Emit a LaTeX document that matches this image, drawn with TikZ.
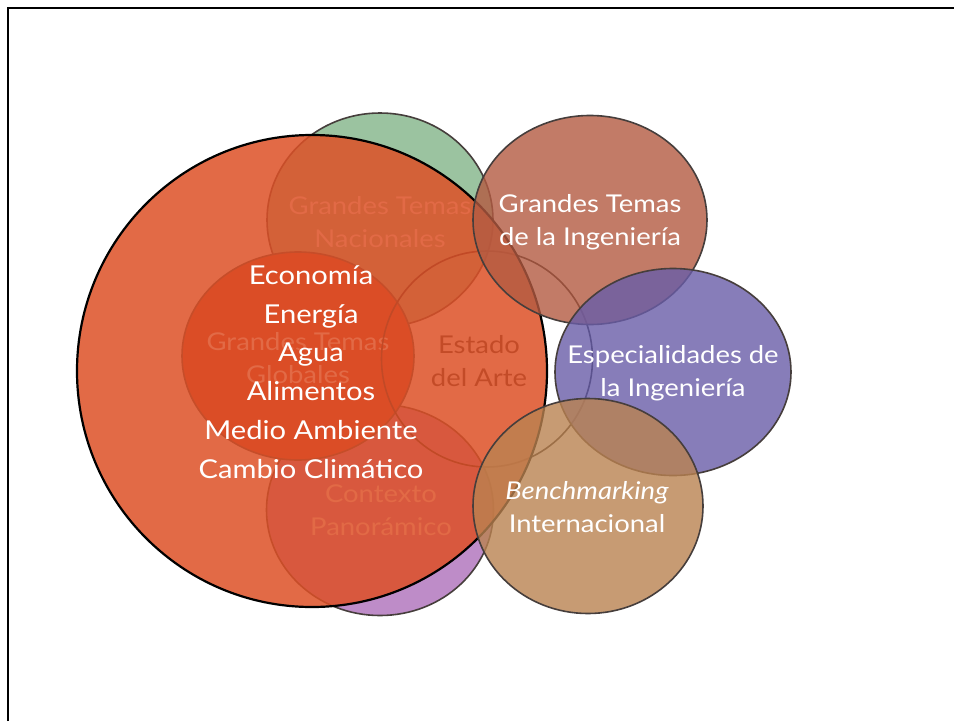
\documentclass[tikz,border=0pt]{standalone}
\usepackage{fontspec}
\setmainfont{Lato}[FakeStretch=1.12]
\usepackage{tikz}
\usetikzlibrary{shapes.geometric}

\definecolor{natGreen}{RGB}{155,195,160}
\definecolor{panMauve}{RGB}{190,140,200}
\definecolor{gloRed}{RGB}{210,60,40}
\definecolor{bigRed}{RGB}{221,80,38}
\definecolor{ingBrown}{RGB}{179,91,66}
\definecolor{espPurple}{RGB}{105,93,168}
\definecolor{benTan}{RGB}{186,130,80}
\definecolor{rimGray}{RGB}{70,62,60}

\begin{document}
\begin{tikzpicture}[x=1pt,y=-1pt,
    bubble/.style={ellipse, draw=rimGray, line width=1.6pt, inner sep=0pt},
    bubbletext/.style={text=white, align=center, font=\fontsize{24.5}{33}\selectfont},
    listtext/.style={text=white, align=center, font=\fontsize{26}{38.8}\selectfont}]
    \fill[white] (0,0) rectangle (954,721);
    \useasboundingbox (0,0) rectangle (954,721);
    \draw[line width=1.5pt] (8,721) -- (8,8) -- (954,8);
    % circles under the big one
    \node[bubble, fill=natGreen, minimum width=226pt, minimum height=214pt] (nacionales) at (380,220) {};
    \node[bubbletext] (nacionalesText) at (380,222) {Grandes Temas\\Nacionales};
    \node[bubble, fill=panMauve, minimum width=227pt, minimum height=211pt] (contexto) at (380,510) {};
    \node[bubbletext] (contextoText) at (381,510) {Contexto\\Panorámico};
    \node[bubble, fill=gloRed, minimum width=232pt, minimum height=208pt] (globales) at (298,356) {};
    \node[bubbletext] (globalesText) at (298,358) {Grandes Temas\\Globales};
    \node[bubble, draw=black!85, minimum width=211pt, minimum height=216pt] (estado) at (487,359) {};
    \node[bubbletext, text=black!80] (estadoText) at (479,361) {Estado\\del Arte};
    % the big one
    \node[bubble, draw=black, line width=2.2pt, fill=bigRed, fill opacity=0.85,
        minimum width=470pt, minimum height=472pt] (grandes) at (312,371) {};
    \node[listtext] (temas) at (311,372) {Economía\\Energía\\Agua\\Alimentos\\Medio Ambiente\\Cambio Climático};
    % circles on top
    \node[bubble, fill=ingBrown, fill opacity=0.8, minimum width=234pt, minimum height=209pt] (ingenieria) at (590,220) {};
    \node[bubbletext] (ingenieriaText) at (590,222) {Grandes Temas\\de la Ingeniería};
    \node[bubble, fill=espPurple, fill opacity=0.8, minimum width=236pt, minimum height=207pt] (especialidades) at (673,372) {};
    \node[bubbletext] (especialidadesText) at (673,373) {Especialidades de\\la Ingeniería};
    \node[bubble, fill=benTan, fill opacity=0.8, minimum width=230pt, minimum height=215pt] (benchmarking) at (588,506) {};
    \node[bubbletext] (benchmarkingText) at (587,507) {\textit{Benchmarking}\\Internacional};
\end{tikzpicture}
\end{document}
